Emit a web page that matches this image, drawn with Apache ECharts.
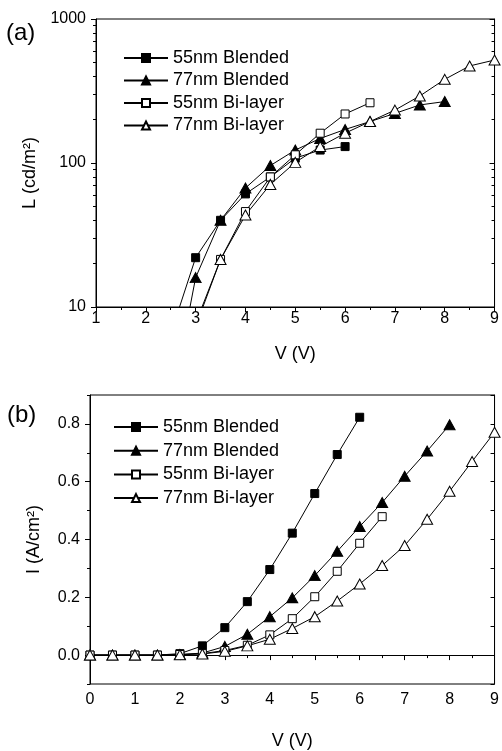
<!DOCTYPE html>
<html>
<head>
<meta charset="utf-8">
<script src="https://cdn.jsdelivr.net/npm/echarts@6/dist/echarts.min.js"></script>
<style>
  html, body { margin: 0; padding: 0; background: #fff; }
  #chart { width: 502px; height: 751px; }
</style>
</head>
<body>
<div id="chart"></div>
<script>
var FONT = 'Liberation Sans';
var names = ['55nm Blended', '77nm Blended', '55nm Bi-layer', '77nm Bi-layer'];

// (a) luminance vs voltage
var vA = [2.5, 3, 3.5, 4, 4.5, 5, 5.5, 6];
var lumA = [6.5, 22, 40, 61, 80, 108, 123, 130];
var vB = [2.5, 3, 3.5, 4, 4.5, 5, 5.5, 6, 6.5, 7, 7.5, 8];
var lumB = [2, 16, 40, 67, 96, 123, 148, 171, 194, 221, 253, 267];
var vC = [3, 3.5, 4, 4.5, 5, 5.5, 6, 6.5];
var lumC = [7.7, 21.4, 46, 80, 114, 161, 219, 262];
var vD = [3, 3.5, 4, 4.5, 5, 5.5, 6, 6.5, 7, 7.5, 8, 8.5, 9];
var lumD = [7.3, 21.4, 43.5, 71, 101, 130, 161, 194, 233, 292, 381, 472, 519];

// (b) current density vs voltage
var vI = [0, 0.5, 1, 1.5, 2, 2.5, 3, 3.5, 4, 4.5, 5, 5.5, 6, 6.5, 7, 7.5, 8, 8.5, 9];
var curA = [0, 0, 0, 0, 0.005, 0.032, 0.095, 0.185, 0.296, 0.422, 0.559, 0.694, 0.823];
var curB = [0, 0, 0, 0, 0.002, 0.007, 0.030, 0.072, 0.133, 0.198, 0.275, 0.359, 0.445, 0.528, 0.619, 0.706, 0.797];
var curC = [0, 0, 0, 0, 0.002, 0.005, 0.016, 0.034, 0.070, 0.126, 0.202, 0.290, 0.387, 0.479];
var curD = [0, 0, 0, 0, 0.001, 0.004, 0.013, 0.032, 0.055, 0.092, 0.133, 0.187, 0.246, 0.310, 0.379, 0.470, 0.567, 0.670, 0.771];

var majorI = [0, 0.2, 0.4, 0.6, 0.8];

function pairs(xs, ys) {
    var out = [];
    for (var i = 0; i < ys.length; i++) out.push([xs[i], ys[i]]);
    return out;
}

var marks = [
    { symbol: 'rect', size: 8, fill: '#000' },
    { symbol: 'triangle', size: [11, 10], fill: '#000' },
    { symbol: 'rect', size: 8, fill: '#fff' },
    { symbol: 'triangle', size: [11, 10], fill: '#fff' }
];

function makeSeries(i, data, xi, yi) {
    return {
        name: names[i],
        type: 'line',
        xAxisIndex: xi,
        yAxisIndex: yi,
        data: data,
        symbol: marks[i].symbol,
        symbolSize: marks[i].size,
        showAllSymbol: true,
        lineStyle: { color: '#000', width: 1 },
        itemStyle: { color: marks[i].fill, borderColor: '#000', borderWidth: 1, opacity: 1 },
        emphasis: { disabled: true },
        z: 3
    };
}

var tickLabel = { color: '#000', fontFamily: FONT, fontSize: 16 };
var nameStyle = { color: '#000', fontFamily: FONT, fontSize: 18 };
var blackLine = { show: true, lineStyle: { color: '#000', width: 1 } };

var chart = echarts.init(document.getElementById('chart'));

var option = {
    backgroundColor: '#fff',
    animation: false,
    grid: [
        { left: 96, top: 19, width: 400, height: 288, show: true, borderColor: '#000', borderWidth: 1, backgroundColor: 'transparent' },
        { left: 90, top: 395, width: 407, height: 290, show: true, borderColor: '#000', borderWidth: 1, backgroundColor: 'transparent' }
    ],
    graphic: [
        { type: 'text', left: 6, top: 21, style: { text: '(a)', fontFamily: FONT, fontSize: 24, fill: '#000' } },
        { type: 'text', left: 7, top: 403, style: { text: '(b)', fontFamily: FONT, fontSize: 24, fill: '#000' } }
    ],
    legend: [
        {
            left: 118, top: 44, orient: 'vertical', selectedMode: false,
            itemWidth: 44, itemHeight: 10, itemGap: 4.5,
            data: names,
            textStyle: { color: '#000', fontFamily: FONT, fontSize: 18 }
        },
        {
            left: 108, top: 413, orient: 'vertical', selectedMode: false,
            itemWidth: 44, itemHeight: 10, itemGap: 5.7,
            data: names,
            textStyle: { color: '#000', fontFamily: FONT, fontSize: 18 }
        }
    ],
    xAxis: [
        {
            gridIndex: 0, type: 'value', min: 1, max: 9, interval: 1,
            name: 'V (V)', nameLocation: 'middle', nameGap: 38, nameTextStyle: nameStyle,
            axisLine: blackLine,
            axisTick: { show: true, length: 5, lineStyle: { color: '#000' } },
            minorTick: { show: true, splitNumber: 2, length: 3, lineStyle: { color: '#000' } },
            axisLabel: Object.assign({ margin: 4 }, tickLabel),
            splitLine: { show: false }
        },
        {
            gridIndex: 1, type: 'value', min: 0, max: 9, interval: 1,
            name: 'V (V)', nameLocation: 'middle', nameGap: 48, nameTextStyle: nameStyle,
            axisLine: blackLine,
            axisTick: { show: true, length: 5, lineStyle: { color: '#000' } },
            minorTick: { show: true, splitNumber: 2, length: 3, lineStyle: { color: '#000' } },
            axisLabel: Object.assign({ margin: 8 }, tickLabel),
            splitLine: { show: false }
        }
    ],
    yAxis: [
        {
            gridIndex: 0, type: 'log', logBase: 10, min: 10, max: 1000, position: 'left',
            name: 'L (cd/m²)', nameLocation: 'middle', nameGap: 53,
            nameTextStyle: Object.assign({ padding: [0, 20, 0, 0] }, nameStyle),
            axisLine: blackLine,
            axisTick: { show: true, length: 5, lineStyle: { color: '#000' } },
            minorTick: { show: true, splitNumber: 9, length: 3, lineStyle: { color: '#000' } },
            axisLabel: Object.assign({
                margin: 10,
                formatter: function (v) { return String(Math.round(v)); }
            }, tickLabel),
            splitLine: { show: false }
        },
        {
            gridIndex: 0, type: 'log', logBase: 10, min: 10, max: 1000, position: 'right',
            axisLine: blackLine,
            axisTick: { show: true, inside: true, length: 5, lineStyle: { color: '#000' } },
            minorTick: { show: true, splitNumber: 9, length: 3, lineStyle: { color: '#000' } },
            axisLabel: { show: false },
            splitLine: { show: false }
        },
        {
            gridIndex: 1, type: 'value', min: -0.1, max: 0.9, interval: 0.1, position: 'left',
            name: 'I (A/cm²)', nameLocation: 'middle', nameGap: 47, nameTextStyle: nameStyle,
            axisLine: blackLine,
            axisTick: { show: true, length: 3, lineStyle: { color: '#000' } },
            axisLabel: Object.assign({
                margin: 10,
                formatter: function (v) {
                    var k = Math.round(v * 10);
                    return (k >= 0 && k % 2 === 0) ? (k / 10).toFixed(1) : '';
                }
            }, tickLabel),
            splitLine: { show: false }
        },
        {
            gridIndex: 1, type: 'value', min: -0.1, max: 0.9, interval: 0.1, position: 'right',
            axisLine: blackLine,
            axisTick: { show: true, inside: true, length: 4, lineStyle: { color: '#000' } },
            axisLabel: { show: false },
            splitLine: { show: false }
        },
        {
            gridIndex: 1, type: 'value', min: -0.1, max: 0.9, interval: 0.1, position: 'left', offset: 0,
            axisLine: { show: false },
            axisTick: { show: true, length: 5, customValues: majorI, lineStyle: { color: '#000' } },
            axisLabel: { show: false },
            splitLine: { show: false }
        }
    ],
    series: [
        makeSeries(0, pairs(vA, lumA), 0, 0),
        makeSeries(1, pairs(vB, lumB), 0, 0),
        makeSeries(2, pairs(vC, lumC), 0, 0),
        makeSeries(3, pairs(vD, lumD), 0, 0),
        makeSeries(0, pairs(vI, curA), 1, 2),
        makeSeries(1, pairs(vI, curB), 1, 2),
        makeSeries(2, pairs(vI, curC), 1, 2),
        makeSeries(3, pairs(vI, curD), 1, 2)
    ]
};

chart.setOption(option);
</script>
</body>
</html>
